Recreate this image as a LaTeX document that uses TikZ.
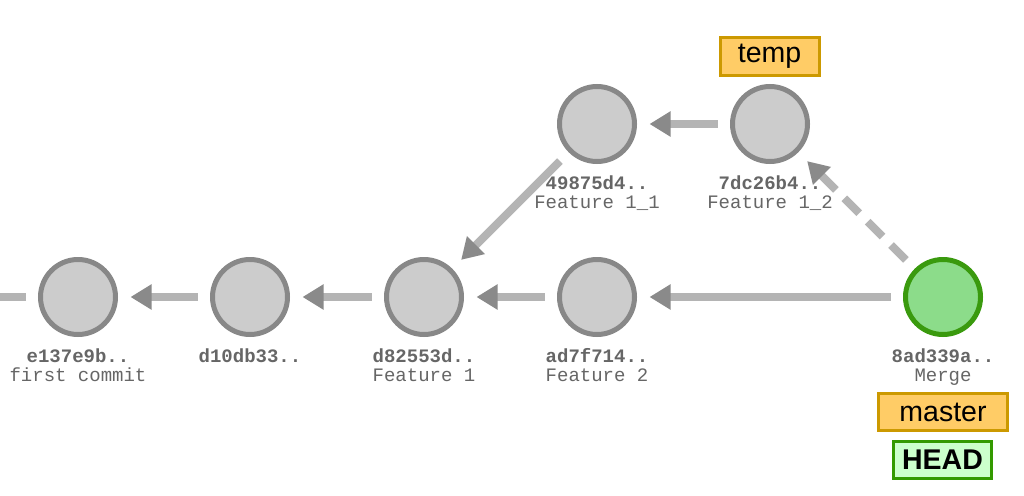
\documentclass[tikz,border=0pt]{standalone}
\usepackage{fontspec}
\setmainfont{Liberation Sans}
\newfontfamily\monof{Liberation Mono}
\usetikzlibrary{arrows.meta}
\definecolor{nodefill}{HTML}{CCCCCC}
\definecolor{nodeline}{HTML}{888888}
\definecolor{mergefill}{HTML}{8CDC8A}
\definecolor{mergeline}{HTML}{3A9A0E}
\definecolor{linkcol}{HTML}{B4B4B4}
\definecolor{headcol}{HTML}{8A8A8A}
\definecolor{txtcol}{HTML}{666666}
\definecolor{branchfill}{HTML}{FFCC66}
\definecolor{branchline}{HTML}{CC9900}
\definecolor{headfill}{HTML}{CCFFCC}
\definecolor{headline}{HTML}{339900}
\tikzset{
  commit/.style={circle, inner sep=0pt, minimum size=75pt, line width=5pt, draw=nodeline, fill=nodefill},
  mergecommit/.style={commit, draw=mergeline, fill=mergefill},
  link/.style={draw=linkcol, line width=8pt, shorten <=12.5pt, shorten >=12.5pt,
    -{Triangle[length=21pt,width=24pt,color=headcol,fill=headcol]}},
  stub/.style={draw=linkcol, line width=8pt, shorten >=12.5pt},
  dashlink/.style={link, dash pattern=on 21pt off 12pt},
  hashlbl/.style={anchor=base, inner sep=0pt, text=txtcol, font=\monof\bfseries\fontsize{19}{19}\selectfont},
  msglbl/.style={anchor=base, inner sep=0pt, text=txtcol, font=\monof\fontsize{19}{19}\selectfont},
  branch/.style={rectangle, draw=branchline, fill=branchfill, line width=3pt, inner sep=0pt,
    minimum height=37pt, font=\fontsize{28.5}{28.5}\selectfont},
  headlbl/.style={branch, draw=headline, fill=headfill, font=\bfseries\fontsize{28.5}{28.5}\selectfont},
}
\begin{document}
\begin{tikzpicture}[x=1pt,y=-1pt]
\useasboundingbox[fill=white] (0,0) rectangle (1024,495);
% commits
\node[commit] (e137) at (78,297) {};
\node[commit] (d10d) at (250,297) {};
\node[commit] (d825) at (424,297) {};
\node[commit] (ad7f) at (597,297) {};
\node[commit] (4987) at (597,124) {};
\node[commit] (7dc2) at (770,124) {};
\node[mergecommit] (8ad3) at (943,297) {};
\coordinate (leftend) at (0,297);
% connectors
\draw[stub] (leftend) -- (e137);
\draw[link] (d10d) -- (e137);
\draw[link] (d825) -- (d10d);
\draw[link] (ad7f) -- (d825);
\draw[link] (8ad3) -- (ad7f);
\draw[link] (4987) -- (d825);
\draw[link] (7dc2) -- (4987);
\draw[dashlink] (8ad3) -- (7dc2);
% labels
\node[hashlbl] (h1) at (78,362) {e137e9b..};
\node[msglbl]  (m1) at (78,381) {first commit};
\node[hashlbl] (h2) at (250,362) {d10db33..};
\node[hashlbl] (h3) at (424,362) {d82553d..};
\node[msglbl]  (m3) at (424,381) {Feature 1};
\node[hashlbl] (h4) at (597,362) {ad7f714..};
\node[msglbl]  (m4) at (597,381) {Feature 2};
\node[hashlbl] (h5) at (597,189) {49875d4..};
\node[msglbl]  (m5) at (597,208) {Feature 1\_1};
\node[hashlbl] (h6) at (770,189) {7dc26b4..};
\node[msglbl]  (m6) at (770,208) {Feature 1\_2};
\node[hashlbl] (h7) at (943,362) {8ad339a..};
\node[msglbl]  (m7) at (943,381) {Merge};
% branches
\node[branch, minimum width=99pt] (temp) at (769.5,56.5) {temp};
\node[branch, minimum width=129pt] (master) at (943,412) {master};
\node[headlbl, minimum width=98pt] (head) at (942.5,460) {HEAD};
\end{tikzpicture}
\end{document}
